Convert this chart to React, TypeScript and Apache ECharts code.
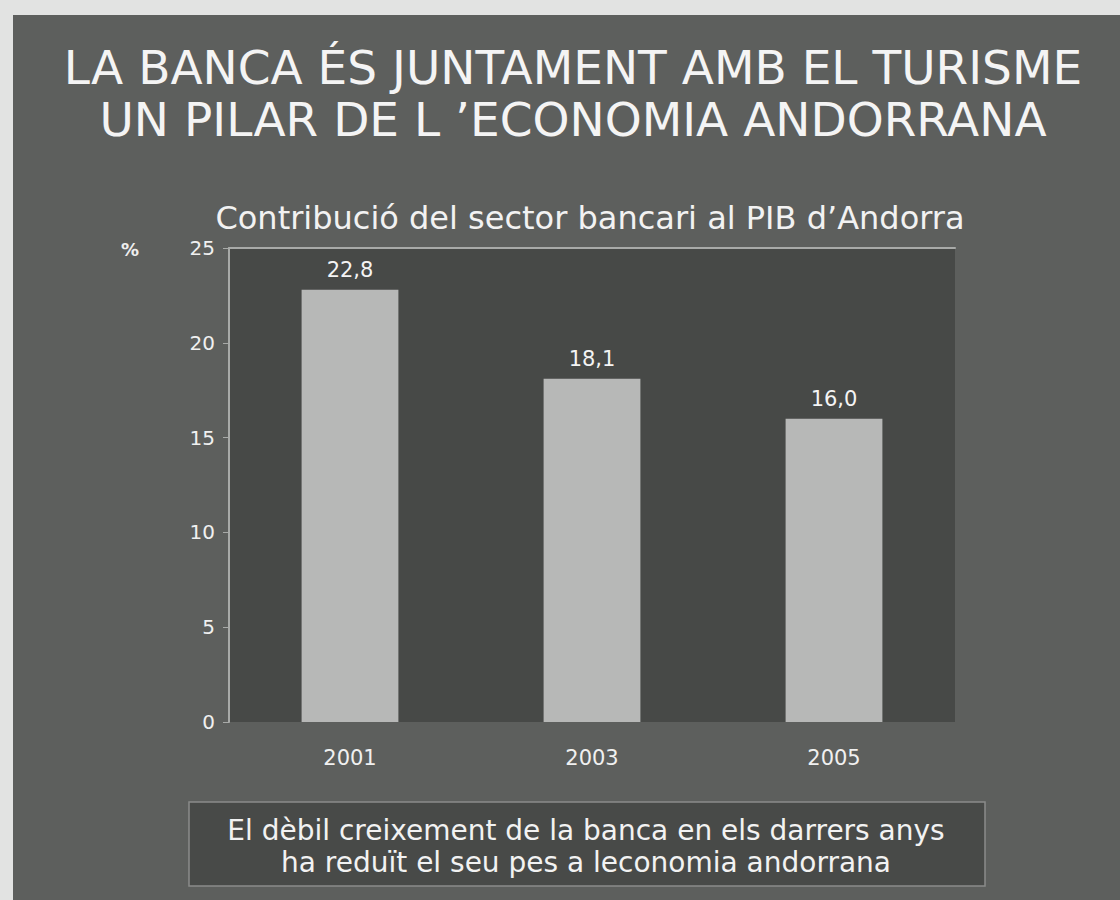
import React, { useEffect, useRef } from "react";
import * as echarts from "echarts";

const categories = ["2001", "2003", "2005"];
const values = [22.8, 18.1, 16.0];
const valueLabels = ["22,8", "18,1", "16,0"];
const titleLines = ["LA BANCA ÉS JUNTAMENT AMB EL TURISME", "UN PILAR DE L ’ECONOMIA ANDORRANA"];
const subtitle = "Contribució del sector bancari al PIB d’Andorra";
const noteLines = ["El dèbil creixement de la banca en els darrers anys", "ha reduït el seu pes a leconomia andorrana"];
const unitLabel = "%";

export default function App() {
  const ref = useRef<HTMLDivElement>(null);
  useEffect(() => {
    if (!ref.current) return;
    const chart = echarts.init(ref.current, undefined, { renderer: "svg" });
    const font = "'DejaVu Sans', sans-serif";
    chart.setOption({
      animation: false,
      backgroundColor: "#e2e3e2",
      textStyle: { fontFamily: font },
      graphic: [
        { type: "rect", shape: { x: 13, y: 15, width: 1107, height: 885 }, style: { fill: "#5d5f5d" }, z: -10 },
        {
          type: "text", x: 573, y: 93,
          style: { text: titleLines.join("\n"), fill: "#f4f4f4", font: `47px ${font}`, textAlign: "center", textVerticalAlign: "middle", lineHeight: 52 },
        },
        {
          type: "text", x: 590, y: 218,
          style: { text: subtitle, fill: "#f2f2f2", font: `32px ${font}`, textAlign: "center", textVerticalAlign: "middle" },
        },
        {
          type: "text", x: 130, y: 249,
          style: { text: unitLabel, fill: "#eeeeee", font: `bold 18px ${font}`, textAlign: "center", textVerticalAlign: "middle" },
        },
        { type: "rect", shape: { x: 189, y: 802, width: 796, height: 84 }, style: { fill: "#484a48", stroke: "#8a8c8a", lineWidth: 1.5 } },
        {
          type: "text", x: 586, y: 846,
          style: { text: noteLines.join("\n"), fill: "#f2f2f2", font: `28px ${font}`, textAlign: "center", textVerticalAlign: "middle", lineHeight: 32 },
        },
      ],
      grid: { left: 229, top: 248, width: 726, height: 474, show: true, backgroundColor: "#474947", borderWidth: 0 },
      xAxis: [
        {
          type: "category", data: categories, position: "bottom",
          axisLine: { show: false }, axisTick: { show: false },
          axisLabel: { color: "#f0f0f0", fontSize: 21, margin: 25, fontFamily: font },
        },
        {
          type: "category", data: categories, position: "top",
          axisLine: { show: true, lineStyle: { color: "#a8aaa8", width: 2 } }, axisTick: { show: false }, axisLabel: { show: false },
        },
      ],
      yAxis: {
        type: "value", min: 0, max: 25, interval: 5,
        axisLine: { show: true, lineStyle: { color: "#a8aaa8", width: 2 } },
        axisTick: { show: true, length: 6, lineStyle: { color: "#a8aaa8" } },
        splitLine: { show: false },
        axisLabel: { color: "#f0f0f0", fontSize: 20, margin: 14, fontFamily: font },
      },
      series: [
        {
          type: "bar", data: values, barWidth: "40%",
          itemStyle: { color: "#b7b8b7" },
          label: {
            show: true, position: "top", distance: 9, color: "#f4f4f4", fontSize: 21, fontFamily: font,
            formatter: (p: any) => valueLabels[p.dataIndex],
          },
        },
      ],
    });
    return () => chart.dispose();
  }, []);
  return <div ref={ref} style={{ position: "absolute", left: 0, top: 0, width: 1120, height: 900 }} />;
}
